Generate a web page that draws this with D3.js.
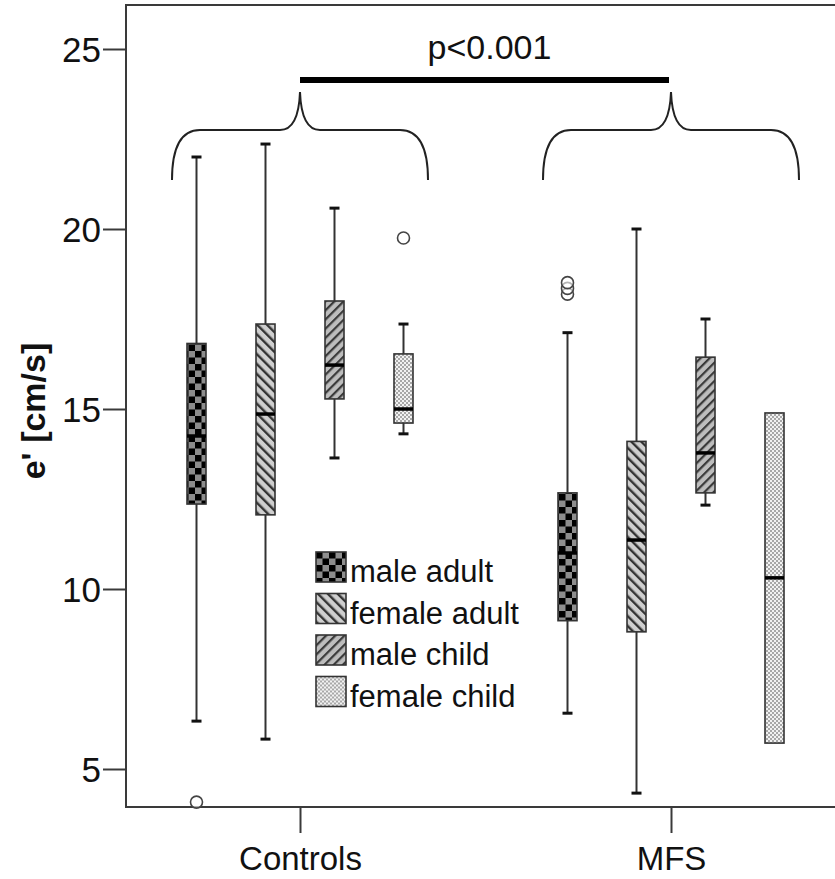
<!DOCTYPE html>
<html>
<head>
<meta charset="utf-8">
<script src="https://cdn.jsdelivr.net/npm/d3@7"></script>
<style>
  html, body { margin: 0; padding: 0; background: #fff; }
  svg { display: block; }
  text { font-family: "Liberation Sans", Arial, sans-serif; }
</style>
</head>
<body>
<svg id="chart" width="835" height="879"></svg>
<script>
// ---------- data ----------
const categories = ["Controls", "MFS"];
const series = ["male adult", "female adult", "male child", "female child"];
const yTicks = [5, 10, 15, 20, 25];

// values per series: [Controls, MFS]
const whiskerLow  = { "male adult": [6.33, 6.55],  "female adult": [5.83, 4.33],  "male child": [13.64, 12.33], "female child": [14.31, 5.72] };
const q1          = { "male adult": [12.36, 9.12], "female adult": [12.06, 8.81], "male child": [15.28, 12.67], "female child": [14.61, 5.72] };
const median      = { "male adult": [14.25, 11.0], "female adult": [14.86, 11.36],"male child": [16.22, 13.78], "female child": [15.0, 10.31] };
const q3          = { "male adult": [16.82, 12.67],"female adult": [17.36, 14.1], "male child": [18.0, 16.44],  "female child": [16.53, 14.89] };
const whiskerHigh = { "male adult": [22.0, 17.12], "female adult": [22.36, 20.0], "male child": [20.58, 17.5],  "female child": [17.36, 14.89] };
const outliers    = { "male adult": [[4.08], [18.19, 18.35, 18.51]], "female adult": [[], []], "male child": [[], []], "female child": [[19.75], []] };

const pValueLabel = "p<0.001";
const yLabel = "e' [cm/s]";

// ---------- layout ----------
const svg = d3.select("#chart");
const frame = { left: 126, top: 5, bottom: 807, right: 836 };

const y = d3.scaleLinear().domain([5, 25]).range([769, 49]);
const x = d3.scalePoint().domain(categories).range([300, 671]);
const sub = d3.scaleBand().domain(series).range([-138, 138]);
const boxW = 19;

// ---------- patterns ----------
const defs = svg.append("defs");
// checkerboard
const pChk = defs.append("pattern").attr("id", "p-male-adult")
  .attr("patternUnits", "userSpaceOnUse").attr("width", 13).attr("height", 13);
pChk.append("rect").attr("width", 13).attr("height", 13).attr("fill", "#8e8e8e");
pChk.append("rect").attr("width", 6.5).attr("height", 6.5).attr("fill", "#000");
pChk.append("rect").attr("x", 6.5).attr("y", 6.5).attr("width", 6.5).attr("height", 6.5).attr("fill", "#000");
// "\" stripes
const pFa = defs.append("pattern").attr("id", "p-female-adult")
  .attr("patternUnits", "userSpaceOnUse").attr("width", 7).attr("height", 7)
  .attr("patternTransform", "rotate(-45)");
pFa.append("rect").attr("width", 7).attr("height", 7).attr("fill", "#cfcfcf");
pFa.append("rect").attr("width", 2.4).attr("height", 7).attr("fill", "#333");
// "/" stripes
const pMc = defs.append("pattern").attr("id", "p-male-child")
  .attr("patternUnits", "userSpaceOnUse").attr("width", 6.5).attr("height", 6.5)
  .attr("patternTransform", "rotate(45)");
pMc.append("rect").attr("width", 6.5).attr("height", 6.5).attr("fill", "#bdbdbd");
pMc.append("rect").attr("width", 2.2).attr("height", 6.5).attr("fill", "#3a3a3a");
// fine dots
const pFc = defs.append("pattern").attr("id", "p-female-child")
  .attr("patternUnits", "userSpaceOnUse").attr("width", 4).attr("height", 4);
pFc.append("rect").attr("width", 4).attr("height", 4).attr("fill", "#f2f2f2");
pFc.append("rect").attr("width", 2).attr("height", 2).attr("fill", "#a8a8a8");
pFc.append("rect").attr("x", 2).attr("y", 2).attr("width", 2).attr("height", 2).attr("fill", "#a8a8a8");
const fillFor = s => "url(#p-" + s.replace(" ", "-") + ")";

// ---------- frame ----------
svg.append("path")
  .attr("d", `M${frame.right},${frame.top} H${frame.left} V${frame.bottom} H${frame.right}`)
  .attr("fill", "none").attr("stroke", "#3a3a3a").attr("stroke-width", 2);

// ---------- axes ----------
const yAxis = svg.append("g").attr("transform", `translate(${frame.left},0)`)
  .call(d3.axisLeft(y).tickValues(yTicks).tickSize(23).tickPadding(2).tickFormat(d3.format("d")));
yAxis.select(".domain").remove();
yAxis.selectAll(".tick line").attr("stroke", "#3a3a3a").attr("stroke-width", 2);
yAxis.selectAll(".tick text").attr("font-size", 35).attr("fill", "#111")
  .attr("font-family", "'Liberation Sans', Arial, sans-serif").attr("dy", "0.36em");

const xAxis = svg.append("g").attr("transform", `translate(0,${frame.bottom})`)
  .call(d3.axisBottom(x).tickSize(26).tickPadding(14));
xAxis.select(".domain").remove();
xAxis.selectAll(".tick line").attr("stroke", "#3a3a3a").attr("stroke-width", 2);
xAxis.selectAll(".tick text").attr("font-size", 33).attr("fill", "#111")
  .attr("font-family", "'Liberation Sans', Arial, sans-serif");

svg.append("text")
  .attr("transform", "translate(45,411) rotate(-90)")
  .attr("text-anchor", "middle")
  .attr("font-size", 34).attr("font-weight", "bold").attr("fill", "#111")
  .text(yLabel);

// ---------- boxes ----------
const boxes = [];
series.forEach(s => {
  categories.forEach((c, i) => {
    boxes.push({ s, c, cx: x(c) + sub(s) + sub.bandwidth() / 2,
      lo: whiskerLow[s][i], q1: q1[s][i], med: median[s][i], q3: q3[s][i], hi: whiskerHigh[s][i],
      out: outliers[s][i] });
  });
});

const g = svg.append("g");
const bx = g.selectAll("g.box").data(boxes).join("g").attr("class", "box");
// whiskers
bx.append("line").attr("x1", d => d.cx).attr("x2", d => d.cx)
  .attr("y1", d => y(d.hi)).attr("y2", d => y(d.q3))
  .attr("stroke", "#333").attr("stroke-width", 2);
bx.append("line").attr("x1", d => d.cx).attr("x2", d => d.cx)
  .attr("y1", d => y(d.q1)).attr("y2", d => y(d.lo))
  .attr("stroke", "#333").attr("stroke-width", 2);
// caps
bx.filter(d => d.hi > d.q3).append("line")
  .attr("x1", d => d.cx - 5).attr("x2", d => d.cx + 5)
  .attr("y1", d => y(d.hi)).attr("y2", d => y(d.hi))
  .attr("stroke", "#111").attr("stroke-width", 3);
bx.filter(d => d.lo < d.q1).append("line")
  .attr("x1", d => d.cx - 5).attr("x2", d => d.cx + 5)
  .attr("y1", d => y(d.lo)).attr("y2", d => y(d.lo))
  .attr("stroke", "#111").attr("stroke-width", 3);
// box
bx.append("rect")
  .attr("x", d => d.cx - boxW / 2).attr("width", boxW)
  .attr("y", d => y(d.q3)).attr("height", d => y(d.q1) - y(d.q3))
  .attr("fill", d => fillFor(d.s)).attr("stroke", "#333").attr("stroke-width", 1.6);
// median
bx.append("line")
  .attr("x1", d => d.cx - boxW / 2).attr("x2", d => d.cx + boxW / 2)
  .attr("y1", d => y(d.med)).attr("y2", d => y(d.med))
  .attr("stroke", "#000").attr("stroke-width", 3.5);
// outliers
bx.selectAll("circle").data(d => d.out.map(v => ({ v, cx: d.cx }))).join("circle")
  .attr("cx", d => d.cx).attr("cy", d => y(d.v)).attr("r", 6)
  .attr("fill", "#fff").attr("fill-opacity", 0.6).attr("stroke", "#444").attr("stroke-width", 1.6);

// ---------- braces & significance ----------
const braceTop = 92, braceMid = 130, braceEnd = 180, half = 128;
categories.forEach(c => {
  const cx = x(c);
  const d = `M${cx - half},${braceEnd}
    C${cx - half},${braceMid + 15} ${cx - half + 10},${braceMid} ${cx - half + 28},${braceMid}
    L${cx - 20},${braceMid}
    C${cx - 8},${braceMid} ${cx - 1},${braceMid - 12} ${cx},${braceTop}
    C${cx + 1},${braceMid - 12} ${cx + 8},${braceMid} ${cx + 20},${braceMid}
    L${cx + half - 28},${braceMid}
    C${cx + half - 10},${braceMid} ${cx + half},${braceMid + 15} ${cx + half},${braceEnd}`;
  svg.append("path").attr("d", d).attr("fill", "none").attr("stroke", "#222").attr("stroke-width", 2);
});
svg.append("rect")
  .attr("x", x("Controls")).attr("width", x("MFS") - x("Controls") - 2)
  .attr("y", 77).attr("height", 6).attr("fill", "#000");
svg.append("text")
  .attr("x", (x("Controls") + x("MFS")) / 2 + 4).attr("y", 59)
  .attr("text-anchor", "middle").attr("font-size", 34).attr("fill", "#111")
  .text(pValueLabel);

// ---------- legend ----------
const leg = svg.append("g").attr("transform", "translate(316,552)");
const li = leg.selectAll("g").data(series).join("g")
  .attr("transform", (d, i) => `translate(0,${i * 41.5})`);
li.append("rect").attr("width", 30).attr("height", 30)
  .attr("fill", d => fillFor(d)).attr("stroke", "#333").attr("stroke-width", 1.6);
li.append("text").attr("x", 34).attr("y", 30)
  .attr("font-size", 31).attr("fill", "#111").text(d => d);
</script>
</body>
</html>
